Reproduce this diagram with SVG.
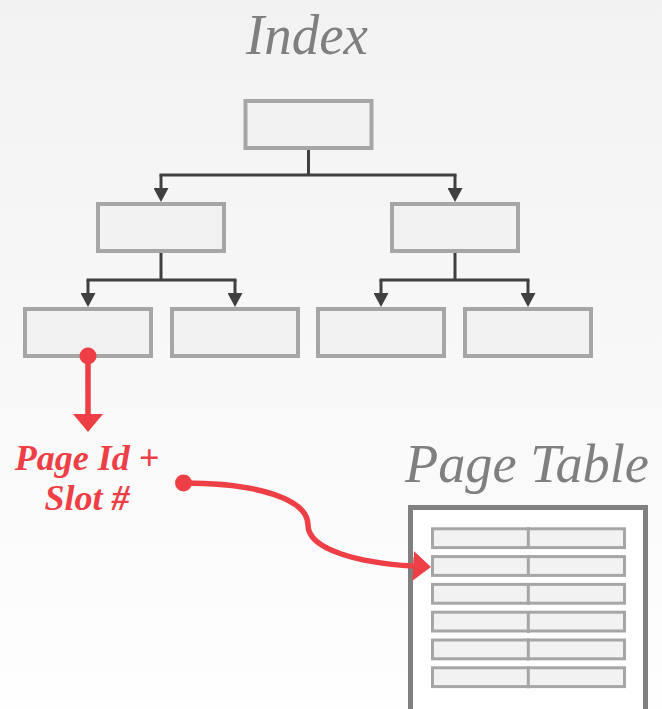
<svg xmlns="http://www.w3.org/2000/svg" width="662" height="709" viewBox="0 0 662 709">
<defs>
<linearGradient id="bg" x1="0" y1="0" x2="0" y2="1">
<stop offset="0" stop-color="#f2f2f2"/>
<stop offset="1" stop-color="#fefefe"/>
</linearGradient>
<marker id="ah" markerUnits="userSpaceOnUse" viewBox="0 0 14 15" refX="0" refY="7.5" markerWidth="14" markerHeight="15" orient="auto">
<path d="M0,0 L14,7.5 L0,15 z" fill="#404040"/>
</marker>
<marker id="rah" markerUnits="userSpaceOnUse" viewBox="0 0 18 30" refX="0" refY="15" markerWidth="18" markerHeight="30" orient="auto">
<path d="M0,0 L18,15 L0,30 z" fill="#ee3e46"/>
</marker>
<style>
.node{fill:#f2f2f2;stroke:#a6a6a6;stroke-width:4}
.cell{fill:#f2f2f2;stroke:#a6a6a6;stroke-width:3}
.conn{fill:none;stroke:#404040;stroke-width:3}
.red{fill:none;stroke:#ee3e46;stroke-width:5.5}
.dot{fill:#ee3e46}
.title{font-family:"Liberation Serif",serif;font-style:italic;fill:#7f7f7f;font-size:58px}
.lbl{font-family:"Liberation Serif",serif;font-style:italic;font-weight:bold;fill:#ee3e46;font-size:36px;text-anchor:middle}
</style>
</defs>
<rect x="0" y="0" width="662" height="709" fill="url(#bg)"/>
<text class="title" x="246" y="54" textLength="122" lengthAdjust="spacingAndGlyphs">Index</text>
<text class="title" x="405" y="482" style="font-size:55px" textLength="244" lengthAdjust="spacingAndGlyphs">Page Table</text>
<g id="connectors">
<path class="conn" d="M308.5,150 V175 M159.5,175 H456.5"/>
<path class="conn" d="M161,175 V188" marker-end="url(#ah)"/>
<path class="conn" d="M455,175 V188" marker-end="url(#ah)"/>
<path class="conn" d="M161,253 V280 M86.5,280 H236.5"/>
<path class="conn" d="M88,280 V293" marker-end="url(#ah)"/>
<path class="conn" d="M235,280 V293" marker-end="url(#ah)"/>
<path class="conn" d="M455,253 V280 M379.5,280 H529.5"/>
<path class="conn" d="M381,280 V293" marker-end="url(#ah)"/>
<path class="conn" d="M528,280 V293" marker-end="url(#ah)"/>
</g>
<g id="root"><rect class="node" x="245.5" y="101" width="126" height="47"/></g>
<g id="inner-left"><rect class="node" x="98" y="204" width="126" height="47"/></g>
<g id="inner-right"><rect class="node" x="392" y="204" width="126" height="47"/></g>
<g id="leaf-1"><rect class="node" x="25" y="309" width="126" height="47"/></g>
<g id="leaf-2"><rect class="node" x="172" y="309" width="126" height="47"/></g>
<g id="leaf-3"><rect class="node" x="318" y="309" width="126" height="47"/></g>
<g id="leaf-4"><rect class="node" x="465" y="309" width="126" height="47"/></g>
<g id="page-table">
<rect x="410.5" y="507.5" width="235" height="215" fill="#ffffff" stroke="#808080" stroke-width="5"/>
<g>
<rect class="cell" x="432.5" y="528.8" width="192" height="18.8"/>
<rect class="cell" x="432.5" y="556.6" width="192" height="18.8"/>
<rect class="cell" x="432.5" y="584.4" width="192" height="18.8"/>
<rect class="cell" x="432.5" y="612.2" width="192" height="18.8"/>
<rect class="cell" x="432.5" y="640.0" width="192" height="18.8"/>
<rect class="cell" x="432.5" y="667.8" width="192" height="18.8"/>
<path d="M528.3,527 V549 M528.3,555 V577 M528.3,583 V605 M528.3,611 V633 M528.3,638.5 V660.5 M528.3,666.3 V688.3" stroke="#a6a6a6" stroke-width="3" fill="none"/>
</g>
</g>
<g id="pointer-label">
<text class="lbl" x="87" y="470">Page Id +</text>
<text class="lbl" x="87" y="510">Slot #</text>
</g>
<g id="red-connectors">
<circle class="dot" cx="88" cy="356" r="8.5"/>
<path class="red" d="M88,356 V414" marker-end="url(#rah)"/>
<circle class="dot" cx="183.5" cy="483" r="8.5"/>
<path class="red" d="M183.5,483 C260,483 308,500 308,525 C308,550 360,563 413,566" marker-end="url(#rah)"/>
</g>
</svg>
